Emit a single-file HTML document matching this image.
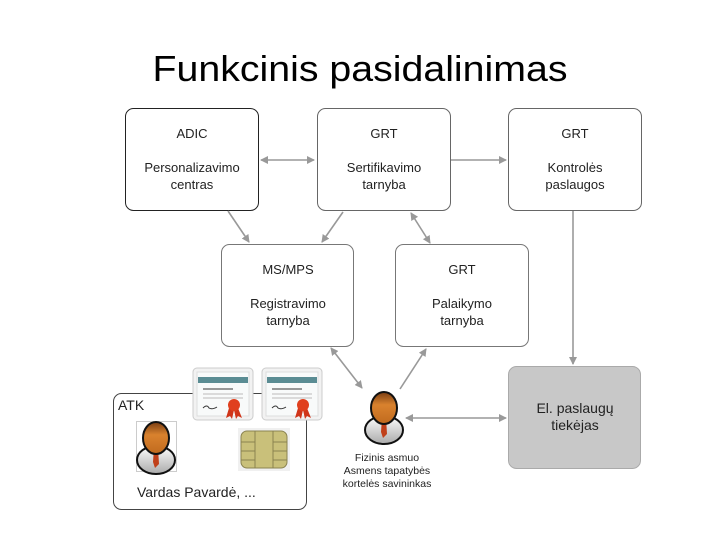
<!DOCTYPE html>
<html><head><meta charset="utf-8"><style>
html,body{margin:0;padding:0;background:#fff;}
svg{display:block;}
text{font-family:"Liberation Sans",sans-serif;fill:#222;}
</style></head><body>
<svg width="720" height="540" viewBox="0 0 720 540" xmlns="http://www.w3.org/2000/svg">
<defs>
<marker id="a" markerWidth="8" markerHeight="8" refX="7" refY="4" orient="auto" markerUnits="userSpaceOnUse">
<path d="M0,0 L8,4 L0,8 Z" fill="#999"/></marker>
<marker id="s" markerWidth="8" markerHeight="8" refX="1" refY="4" orient="auto" markerUnits="userSpaceOnUse">
<path d="M8,0 L0,4 L8,8 Z" fill="#999"/></marker>
<linearGradient id="hd" x1="0" y1="0" x2="0" y2="1"><stop offset="0" stop-color="#7a3d12"/><stop offset="0.4" stop-color="#d9822e"/><stop offset="1" stop-color="#c06a1e"/></linearGradient>
<linearGradient id="bd" x1="0" y1="0" x2="0" y2="1"><stop offset="0" stop-color="#fff"/><stop offset="1" stop-color="#aaa"/></linearGradient>
<g id="person">
<ellipse cx="0" cy="22" rx="19" ry="14" fill="url(#bd)" stroke="#111" stroke-width="2"/>
<path d="M-2,10 L2,10 L3,26 L-1,30 L-3,24 Z" fill="#c0401a"/>
<ellipse cx="0" cy="0" rx="13" ry="16" fill="url(#hd)" stroke="#111" stroke-width="2"/>
</g>
<g id="cert">
<rect x="0" y="0" width="60" height="52" rx="4" fill="#f2f2f2" stroke="#ccc"/>
<rect x="4" y="4" width="52" height="44" fill="#f8fafa" stroke="#ddd"/>
<rect x="5" y="9" width="50" height="6" fill="#5a8c93"/>
<line x1="10" y1="21" x2="40" y2="21" stroke="#777" stroke-width="1.5"/>
<line x1="10" y1="26" x2="50" y2="26" stroke="#bbb"/>
<line x1="10" y1="30" x2="50" y2="30" stroke="#bbb"/>
<path d="M10,40 q4,-4 6,0 q3,2 8,-1" stroke="#333" fill="none"/>
<path d="M36,40 L33,50 L37,48 L39,51 L41,42 L43,51 L45,48 L49,50 L45,40 Z" fill="#d0351a"/>
<circle cx="41" cy="37" r="6" fill="#e0401e"/>
</g>
</defs>

<text x="360" y="81" font-size="36" text-anchor="middle" textLength="415" lengthAdjust="spacingAndGlyphs" style="font-family:'Liberation Sans Narrow','Liberation Sans',sans-serif;fill:#000">Funkcinis pasidalinimas</text>

<!-- boxes -->
<rect x="125.5" y="108.5" width="133" height="102" rx="8" fill="#fff" stroke="#222"/>
<rect x="317.5" y="108.5" width="133" height="102" rx="8" fill="#fff" stroke="#666"/>
<rect x="508.5" y="108.5" width="133" height="102" rx="8" fill="#fff" stroke="#666"/>
<rect x="221.5" y="244.5" width="132" height="102" rx="8" fill="#fff" stroke="#777"/>
<rect x="395.5" y="244.5" width="133" height="102" rx="8" fill="#fff" stroke="#777"/>
<rect x="508.5" y="366.5" width="132" height="102" rx="8" fill="#c8c8c8" stroke="#aaa"/>
<rect x="113.5" y="393.5" width="193" height="116" rx="8" fill="#fff" stroke="#444"/>

<g font-size="13" text-anchor="middle">
<text x="192" y="138">ADIC</text>
<text x="192" y="172">Personalizavimo</text>
<text x="192" y="189">centras</text>
<text x="384" y="138">GRT</text>
<text x="384" y="172">Sertifikavimo</text>
<text x="384" y="189">tarnyba</text>
<text x="575" y="138">GRT</text>
<text x="575" y="172">Kontrolės</text>
<text x="575" y="189">paslaugos</text>
<text x="288" y="274">MS/MPS</text>
<text x="288" y="308">Registravimo</text>
<text x="288" y="325">tarnyba</text>
<text x="462" y="274">GRT</text>
<text x="462" y="308">Palaikymo</text>
<text x="462" y="325">tarnyba</text>
<text x="575" y="413" font-size="14">El. paslaugų</text>
<text x="575" y="430" font-size="14">tiekėjas</text>
</g>
<text x="118" y="410" font-size="14">ATK</text>
<text x="137" y="497" font-size="14">Vardas Pavardė, ...</text>
<g font-size="10.5" text-anchor="middle">
<text x="387" y="461">Fizinis asmuo</text>
<text x="387" y="474">Asmens tapatybės</text>
<text x="387" y="487">kortelės savininkas</text>
</g>

<!-- arrows -->
<g stroke="#999" stroke-width="1.6" fill="none">
<line x1="261" y1="160" x2="314" y2="160" marker-start="url(#s)" marker-end="url(#a)"/>
<line x1="451" y1="160" x2="506" y2="160" marker-end="url(#a)"/>
<line x1="228" y1="211" x2="249" y2="242" marker-end="url(#a)"/>
<line x1="343" y1="212" x2="322" y2="242" marker-end="url(#a)"/>
<line x1="411" y1="213" x2="430" y2="243" marker-start="url(#s)" marker-end="url(#a)"/>
<line x1="573" y1="211" x2="573" y2="364" marker-end="url(#a)"/>
<line x1="331" y1="348" x2="362" y2="388" marker-start="url(#s)" marker-end="url(#a)"/>
<line x1="400" y1="389" x2="426" y2="349" marker-end="url(#a)"/>
<line x1="406" y1="418" x2="506" y2="418" marker-start="url(#s)" marker-end="url(#a)"/>
</g>

<use href="#cert" x="193" y="368"/>
<use href="#cert" x="262" y="368"/>

<rect x="136.5" y="421.5" width="40" height="50" fill="#fff" stroke="#ccc"/>
<use href="#person" x="156" y="438"/>
<use href="#person" x="384" y="408"/>

<!-- chip -->
<rect x="238" y="428" width="52" height="43" fill="#f0f0f0"/>
<rect x="241" y="431" width="46" height="37" rx="6" fill="#c9c07a" stroke="#8a8350"/>
<g stroke="#8a8350" stroke-width="1" fill="none">
<path d="M255,431 V468 M273,431 V468 M241,442 H255 M241,451 H255 M241,460 H255 M273,442 H287 M273,451 H287 M273,460 H287"/>
</g>
</svg>
</body></html>
